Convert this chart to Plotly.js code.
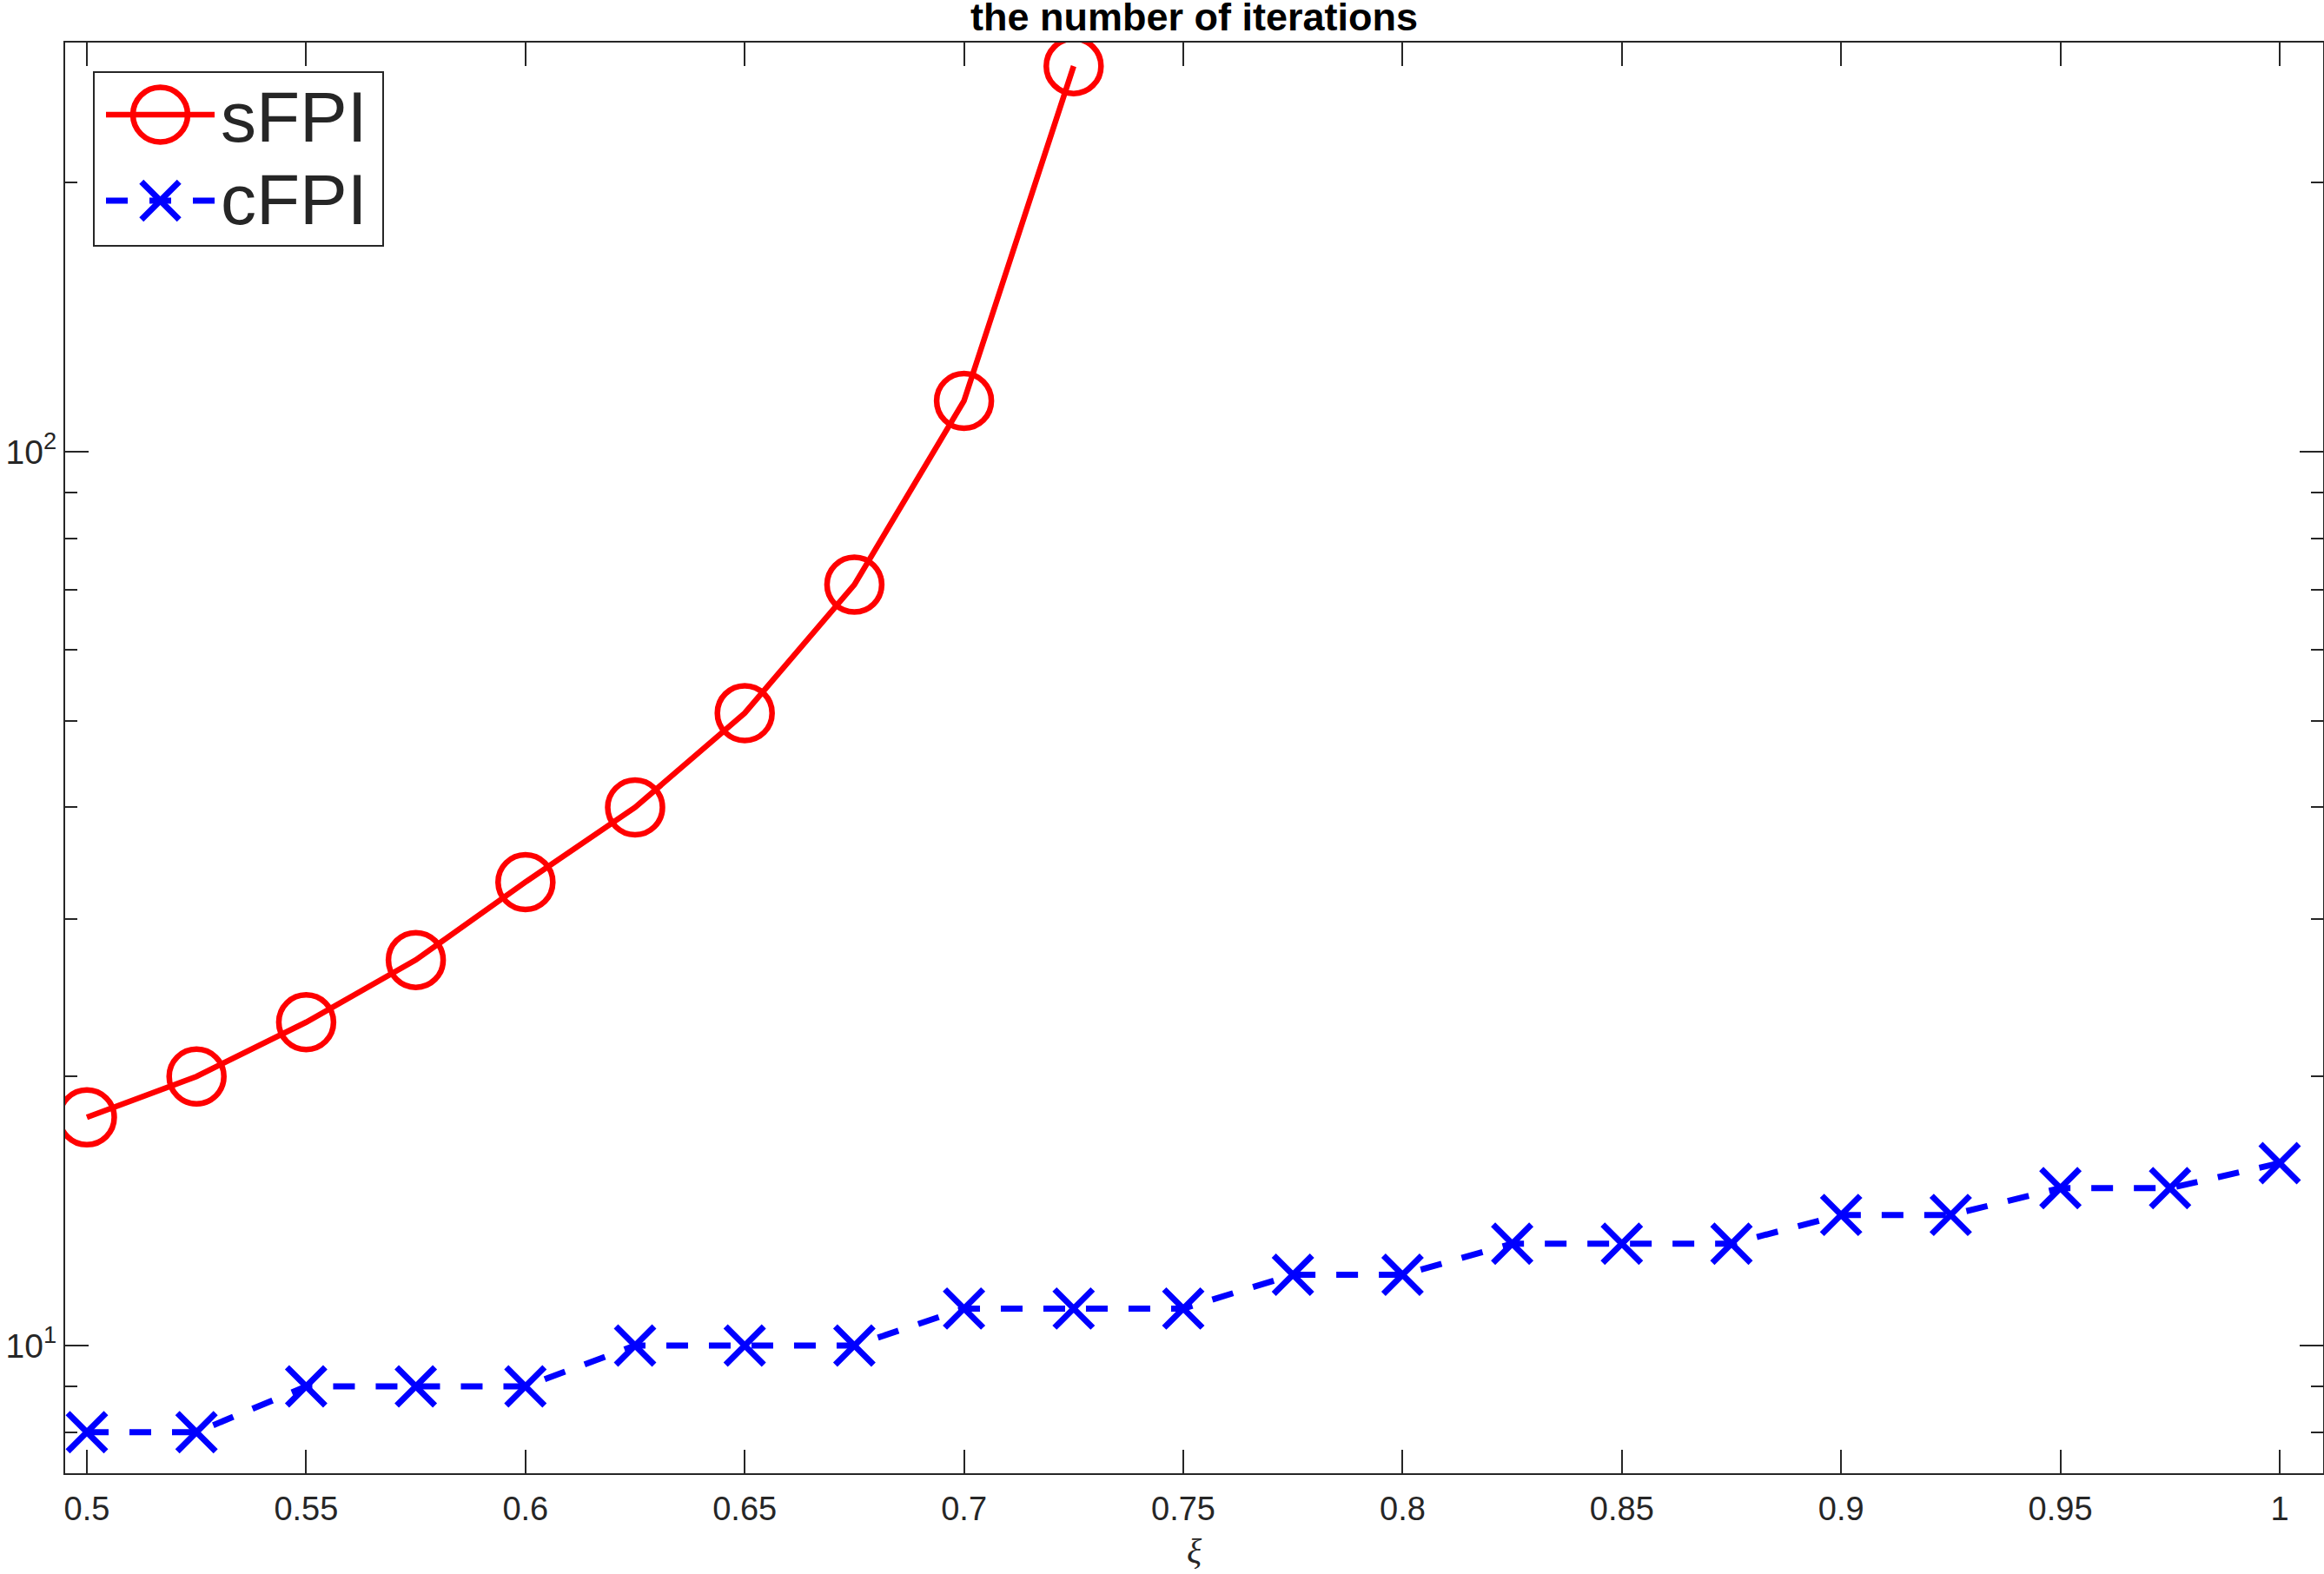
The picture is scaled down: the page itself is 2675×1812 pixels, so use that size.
<!DOCTYPE html>
<html>
<head>
<meta charset="utf-8">
<script src="https://cdn.plot.ly/plotly-3.0.1.min.js"></script>
<style>html,body{margin:0;padding:0;background:#fff;}#chart{width:2675px;height:1812px;}</style>
</head>
<body>
<div id="chart"></div>
<script>
// ---- data ----
const xi = [0.5, 0.525, 0.55, 0.575, 0.6, 0.625, 0.65, 0.675, 0.7, 0.725, 0.75, 0.775, 0.8, 0.825, 0.85, 0.875, 0.9, 0.925, 0.95, 0.975, 1.0];
const xiS = [0.5, 0.525, 0.55, 0.575, 0.6, 0.625, 0.65, 0.675, 0.7, 0.725];
const sFPI = [18, 20, 23, 27, 33, 40, 51, 71, 114, 270];
const cFPI = [8, 8, 9, 9, 9, 10, 10, 10, 11, 11, 11, 12, 12, 13, 13, 13, 14, 14, 15, 15, 16];
const xTickVals = [0.5, 0.55, 0.6, 0.65, 0.7, 0.75, 0.8, 0.85, 0.9, 0.95, 1];
const xTickText = ['0.5', '0.55', '0.6', '0.65', '0.7', '0.75', '0.8', '0.85', '0.9', '0.95', '1'];
const yTickVals = [10, 100];
const yTickText = ['10<sup>1</sup>', '10<sup>2</sup>'];
const yMinorVals = [8, 9, 20, 30, 40, 50, 60, 70, 80, 90, 200];
const names = ['sFPI', 'cFPI'];

// ---- layout geometry (pixels) ----
const L = 75, T = 49, W = 2599, H = 1647, FW = 2675, FH = 1812;
const px = x => (x - L) / W;
const py = y => (T + H - y) / H;
const axCol = '#262626';
const red = '#ff0000', blue = '#0000ff';

const traces = [
  {x: xiS, y: sFPI, name: names[0], type: 'scatter', mode: 'lines+markers', showlegend: false,
   line: {color: red, width: 6.5},
   marker: {symbol: 'circle-open', size: 63, color: red, line: {color: red, width: 6.5}}},
  {x: xi, y: cFPI, name: names[1], type: 'scatter', mode: 'lines+markers', showlegend: false,
   line: {color: blue, width: 7, dash: '25px,24px'},
   marker: {symbol: 'x-thin-open', size: 44, color: blue, line: {color: blue, width: 7}}}
];

// custom legend
const lr1 = 132, lr2 = 231, lx0 = 122, lx1 = 247, lc = 184.5;
const shapes = [
  {type: 'rect', xref: 'paper', yref: 'paper', x0: px(108), x1: px(441), y0: py(283), y1: py(83),
   line: {color: axCol, width: 2}, fillcolor: '#ffffff', layer: 'above'},
  {type: 'line', xref: 'paper', yref: 'paper', x0: px(lx0), x1: px(lx1), y0: py(lr1), y1: py(lr1),
   line: {color: red, width: 6.5}, layer: 'above'},
  {type: 'circle', xref: 'paper', yref: 'paper', x0: px(lc - 31.5), x1: px(lc + 31.5), y0: py(lr1 + 31.5), y1: py(lr1 - 31.5),
   line: {color: red, width: 6.5}, layer: 'above'},
  {type: 'line', xref: 'paper', yref: 'paper', x0: px(lx0), x1: px(lx0 + 25), y0: py(lr2), y1: py(lr2),
   line: {color: blue, width: 7}, layer: 'above'},
  {type: 'line', xref: 'paper', yref: 'paper', x0: px(lc - 12.5), x1: px(lc + 12.5), y0: py(lr2), y1: py(lr2),
   line: {color: blue, width: 7}, layer: 'above'},
  {type: 'line', xref: 'paper', yref: 'paper', x0: px(lx1 - 25), x1: px(lx1), y0: py(lr2), y1: py(lr2),
   line: {color: blue, width: 7}, layer: 'above'},
  {type: 'line', xref: 'paper', yref: 'paper', x0: px(lc - 21.7), x1: px(lc + 21.7), y0: py(lr2 - 21.7), y1: py(lr2 + 21.7),
   line: {color: blue, width: 7}, layer: 'above'},
  {type: 'line', xref: 'paper', yref: 'paper', x0: px(lc - 21.7), x1: px(lc + 21.7), y0: py(lr2 + 21.7), y1: py(lr2 - 21.7),
   line: {color: blue, width: 7}, layer: 'above'}
];
const annotations = [
  {xref: 'paper', yref: 'paper', x: px(252), y: py(134), xanchor: 'left', yanchor: 'middle', showarrow: false,
   text: names[0], font: {family: 'Liberation Sans, Arial, sans-serif', size: 82, color: axCol}},
  {xref: 'paper', yref: 'paper', x: px(252), y: py(229), xanchor: 'left', yanchor: 'middle', showarrow: false,
   text: names[1], font: {family: 'Liberation Sans, Arial, sans-serif', size: 82, color: axCol}}
];

const layout = {
  width: FW, height: FH,
  margin: {l: L, r: FW - L - W, t: T, b: FH - T - H, pad: 0},
  paper_bgcolor: '#ffffff', plot_bgcolor: '#ffffff',
  font: {family: 'Liberation Sans, Arial, sans-serif', color: axCol, size: 38},
  title: {text: '<b>the number of iterations</b>', font: {family: 'Liberation Sans, Arial, sans-serif', size: 45, color: '#000000'},
          xref: 'paper', x: 0.5, xanchor: 'center', yref: 'container', y: 1 - 19 / FH, yanchor: 'middle'},
  xaxis: {
    range: [0.5 - 25 / 5048, 1 + 50 / 5048], showgrid: false, zeroline: false,
    showline: true, linecolor: axCol, linewidth: 2, mirror: 'ticks',
    ticks: 'inside', ticklen: 27, tickwidth: 2, tickcolor: axCol, ticklabelstandoff: 6,
    tickvals: xTickVals, ticktext: xTickText, tickfont: {size: 38, color: axCol},
    title: {text: '<i>ξ</i>', font: {family: 'Liberation Serif, Times New Roman, serif', size: 40, color: axCol}, standoff: 14}
  },
  yaxis: {
    type: 'log', range: [0.85714, 2.45773], showgrid: false, zeroline: false,
    showline: true, linecolor: axCol, linewidth: 2, mirror: 'ticks',
    ticks: 'inside', ticklen: 27, tickwidth: 2, tickcolor: axCol,
    tickvals: yTickVals, ticktext: yTickText, tickfont: {size: 39, color: axCol},
    minor: {tickvals: yMinorVals, ticks: 'inside', ticklen: 14, tickwidth: 2, tickcolor: axCol, showgrid: false}
  },
  shapes: shapes,
  annotations: annotations,
  showlegend: false
};

Plotly.newPlot('chart', traces, layout, {displayModeBar: false, staticPlot: true});
</script>
</body>
</html>
